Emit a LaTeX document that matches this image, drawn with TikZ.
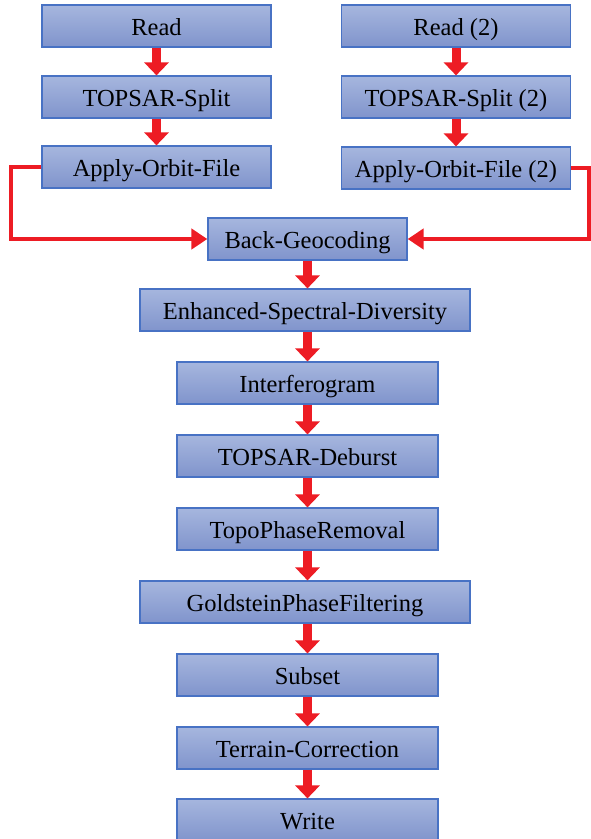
\documentclass[tikz,border=0pt]{standalone}
\usepackage{fontspec}
\setmainfont{Liberation Serif}
\usepackage{tikz}
\usetikzlibrary{arrows.meta}

\definecolor{boxtop}{RGB}{166,182,222}
\definecolor{boxbot}{RGB}{128,148,204}
\definecolor{boxline}{RGB}{72,114,196}
\definecolor{flowred}{RGB}{237,28,36}

\begin{document}
\begin{tikzpicture}[x=1pt, y=1pt,
    step box/.style={draw=boxline, line width=1.2pt, top color=boxtop, bottom color=boxbot,
        minimum width=229pt, minimum height=42pt, inner sep=0pt,
        text height=19pt, text depth=1pt,
        font=\fontsize{24.5}{28}\selectfont},
    wide box/.style={step box, minimum width=330pt},
    mid box/.style={step box, minimum width=261pt},
    flow/.style={draw=flowred, line width=9pt, -{Triangle[width=24pt,length=13pt]}},
    link/.style={draw=flowred, line width=4pt, -{Triangle[width=20pt,length=16pt]}}]

    \useasboundingbox (0,0) rectangle (591,-839);

    % first image
    \node[step box] (read)   at (156.5,-26)  {Read};
    \node[step box] (split)  at (156.5,-97)  {TOPSAR-Split};
    \node[step box] (orbit)  at (156.5,-167) {Apply-Orbit-File};

    % second image
    \node[step box] (read2)  at (456,-26)  {Read (2)};
    \node[step box] (split2) at (456,-97)  {TOPSAR-Split (2)};
    \node[step box] (orbit2) at (456,-168) {Apply-Orbit-File (2)};

    % common chain
    \node[step box, minimum width=199pt] (geocode) at (307.5,-239) {Back-Geocoding};
    \node[wide box] (esd)     at (305,-310)   {Enhanced-Spectral-Diversity};
    \node[mid box]  (ifg)     at (307.5,-383) {Interferogram};
    \node[mid box]  (deburst) at (307.5,-456) {TOPSAR-Deburst};
    \node[mid box]  (topo)    at (307.5,-529) {TopoPhaseRemoval};
    \node[wide box] (filter)  at (305,-602)   {GoldsteinPhaseFiltering};
    \node[mid box]  (subset)  at (307.5,-675) {Subset};
    \node[mid box]  (terrain) at (307.5,-748) {Terrain-Correction};
    \node[mid box]  (write)   at (307.5,-820) {Write};

    \draw[flow] (read) -- (split);
    \draw[flow] (split) -- (orbit);
    \draw[flow] (read2) -- (split2);
    \draw[flow] (split2) -- (orbit2);

    \draw[link] (orbit.west) -- ++(-30,0) |- (geocode.west);
    \draw[link] (orbit2.east) -- ++(18,0) |- (geocode.east);

    \draw[flow] (geocode) -- (esd.north -| geocode);
    \draw[flow] (esd.south -| ifg) -- (ifg);
    \draw[flow] (ifg) -- (deburst);
    \draw[flow] (deburst) -- (topo);
    \draw[flow] (topo) -- (filter.north -| topo);
    \draw[flow] (filter.south -| subset) -- (subset);
    \draw[flow] (subset) -- (terrain);
    \draw[flow] (terrain) -- (write);

\end{tikzpicture}
\end{document}
